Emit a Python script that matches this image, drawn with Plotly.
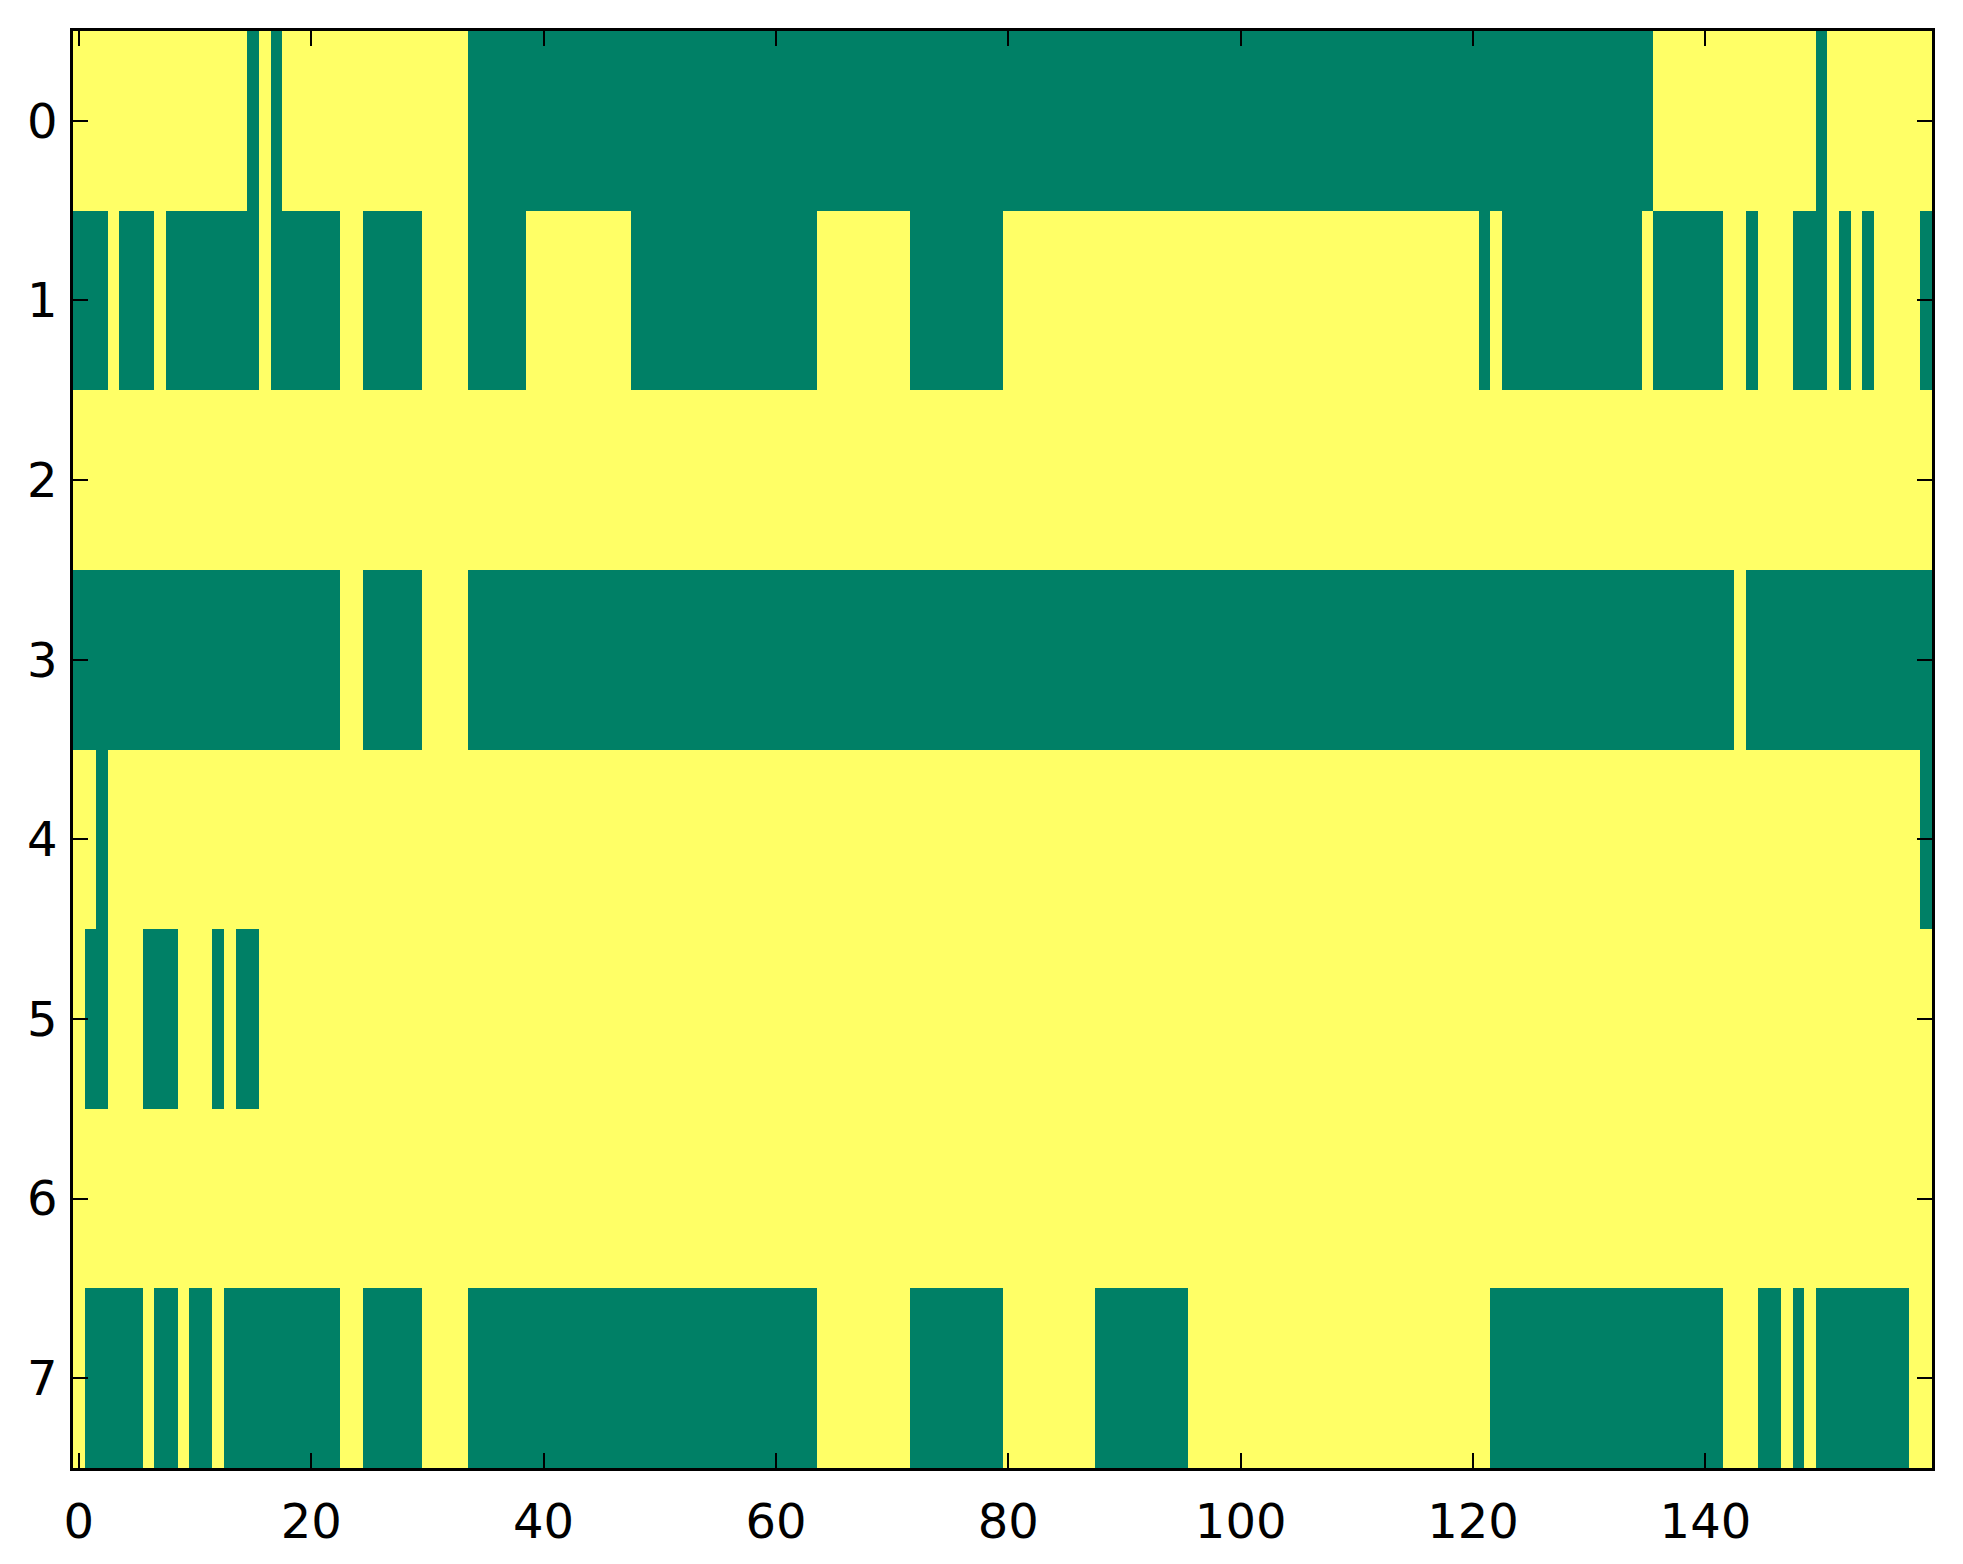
import plotly.graph_objects as go

n_cols = 160
row_labels = [0, 1, 2, 3, 4, 5, 6, 7]

# green (value 0) column runs per row, inclusive; everything else is yellow (value 1)
row0_green = [(15, 15), (17, 17), (34, 135), (150, 150)]
row1_green = [(0, 2), (4, 6), (8, 15), (17, 22), (25, 29), (34, 38), (48, 63), (72, 79),
              (121, 121), (123, 134), (136, 141), (144, 144), (148, 150), (152, 152),
              (154, 154), (159, 159)]
row2_green = []
row3_green = [(0, 22), (25, 29), (34, 142), (144, 159)]
row4_green = [(2, 2), (159, 159)]
row5_green = [(1, 2), (6, 8), (12, 12), (14, 15)]
row6_green = []
row7_green = [(1, 5), (7, 8), (10, 11), (13, 22), (25, 29), (34, 63), (72, 79), (88, 95),
              (122, 141), (145, 146), (148, 148), (150, 157)]

x_ticks = [0, 20, 40, 60, 80, 100, 120, 140]

all_rows = [row0_green, row1_green, row2_green, row3_green,
            row4_green, row5_green, row6_green, row7_green]

z = []
for runs in all_rows:
    row = [1] * n_cols
    for a, b in runs:
        for c in range(a, b + 1):
            row[c] = 0
    z.append(row)

# matplotlib "summer" colormap ends
summer = [[0.0, "#008066"], [1.0, "#ffff66"]]

fig = go.Figure()
fig.add_trace(go.Heatmap(
    z=z,
    x=list(range(n_cols)),
    y=row_labels,
    colorscale=summer,
    zmin=0, zmax=1,
    showscale=False,
    hoverinfo="skip",
))

axis_style = dict(
    showgrid=False,
    zeroline=False,
    showline=True,
    linecolor="black",
    linewidth=2.5,
    mirror="allticks",
    ticks="inside",
    ticklen=15,
    tickwidth=1.5,
    tickcolor="black",
    tickfont=dict(family="DejaVu Sans", size=48, color="black"),
)

fig.update_xaxes(range=[-0.5, n_cols - 0.5], tickvals=x_ticks, ticklabelstandoff=10, **axis_style)
fig.update_yaxes(range=[7.5, -0.5], tickvals=row_labels, ticklabelstandoff=3, **axis_style)

# page body has an 8px margin, so the figure is a bit smaller than the window
fig.update_layout(
    width=1955,
    height=1556,
    margin=dict(l=65, r=31, t=23, b=96),
    paper_bgcolor="white",
    plot_bgcolor="white",
    font=dict(family="DejaVu Sans", color="black"),
)

fig.write_html("out.html")
